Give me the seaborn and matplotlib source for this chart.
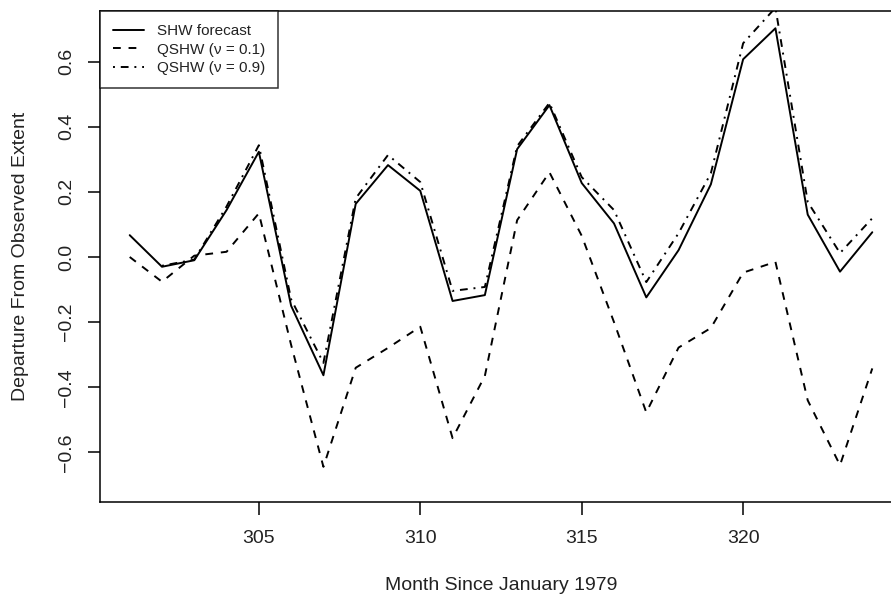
import numpy as np
import pandas as pd
import matplotlib
matplotlib.use('Agg')
import matplotlib.pyplot as plt
import seaborn as sns

# %% data
months = list(range(301, 325))
shw = [0.067, -0.030, -0.010, 0.144, 0.323, -0.150, -0.363, 0.163, 0.282, 0.203,
       -0.135, -0.117, 0.331, 0.466, 0.227, 0.103, -0.124, 0.021, 0.223, 0.607,
       0.702, 0.130, -0.045, 0.076]
qshw_01 = [0.000, -0.076, 0.004, 0.016, 0.134, -0.270, -0.644, -0.340, -0.279, -0.214,
           -0.556, -0.365, 0.113, 0.260, 0.065, -0.200, -0.477, -0.278, -0.218, -0.048,
           -0.015, -0.440, -0.639, -0.342]
qshw_09 = [np.nan, -0.027, -0.008, 0.155, 0.343, -0.130, -0.325, 0.180, 0.313, 0.230,
           -0.104, -0.092, 0.340, 0.473, 0.245, 0.144, -0.077, 0.073, 0.257, 0.656,
           0.765, 0.169, 0.012, 0.119]
labels = ['SHW forecast', 'QSHW (\u03bd = 0.1)', 'QSHW (\u03bd = 0.9)']
y_ticks = [-0.6, -0.4, -0.2, 0.0, 0.2, 0.4, 0.6]
x_ticks = [305, 310, 315, 320]

df = pd.DataFrame({'month': months * 3,
                   'value': shw + qshw_01 + qshw_09,
                   'series': [labels[0]] * 24 + [labels[1]] * 24 + [labels[2]] * 24})

# %% plot
sns.set_style('white')
plt.rcParams['font.family'] = ['Liberation Sans', 'DejaVu Sans']
plt.rcParams['axes.unicode_minus'] = True

fig = plt.figure(figsize=(8.91, 5.98), dpi=100)
ax = fig.add_axes([100 / 891, 96 / 598, 802 / 891, 491 / 598])

sns.lineplot(data=df, x='month', y='value', hue='series', style='series',
             palette=['black'] * 3,
             dashes={labels[0]: '', labels[1]: (4, 4), labels[2]: (1, 3, 4, 3)},
             linewidth=1.4, errorbar=None, ax=ax)

ax.set_xlim(300.08, 324.92)
ax.set_ylim(-0.752, 0.755)
ax.set_xticks(x_ticks)
ax.set_yticks(y_ticks)
ax.set_yticklabels([f'{t:.1f}'.replace('-', '\u2212') for t in y_ticks])
ax.tick_params(axis='both', direction='out', length=9, width=1.1, labelsize=14,
               color='black', labelcolor='#222222', bottom=True, left=True)
ax.tick_params(axis='x', pad=11)
ax.tick_params(axis='y', pad=9, labelrotation=90)
for lab in ax.get_yticklabels():
    lab.set_va('center')

for sp in ax.spines.values():
    sp.set_color('black')
    sp.set_linewidth(1.1)

ax.set_xlabel('Month Since January 1979', fontsize=14, color='#222222')
ax.set_ylabel('Departure From Observed Extent', fontsize=14, color='#222222')
ax.xaxis.set_label_coords(0.5, -0.153)
ax.yaxis.set_label_coords(-0.088, 0.5)

leg = ax.legend(loc='upper left', fontsize=11, frameon=True, fancybox=False,
                borderaxespad=0, handlelength=2.0, handletextpad=0.85,
                labelspacing=0.3, borderpad=0.85, title=None)
leg.get_frame().set_edgecolor('black')
leg.get_frame().set_linewidth(1.1)
for t in leg.get_texts():
    t.set_color('#222222')

fig.savefig('out.png', dpi=100)
